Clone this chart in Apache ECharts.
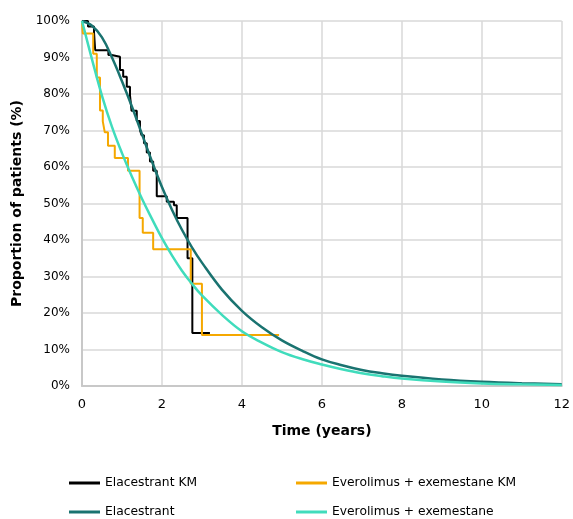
<!DOCTYPE html>
<html lang="en">
<head>
    <meta charset="UTF-8">
    <title>Survival curves</title>
    <script src="https://cdn.jsdelivr.net/npm/echarts@6/dist/echarts.min.js"></script>
    <style>
        html, body { margin: 0; padding: 0; background: #fff; }
        #chart { width: 573px; height: 519px; }
    </style>
</head>
<body>
<div id="chart"></div>
<script>
    // Kaplan-Meier steps: [time (years), % of patients]
    const elacestrantKM = [
        [0, 100], [0.15, 98.5], [0.3, 97], [0.33, 92], [0.66, 90.7], [0.74, 90.2],
        [0.95, 86.6], [1.03, 84.7], [1.12, 82], [1.2, 79.7], [1.24, 75.4],
        [1.37, 72.6], [1.45, 70.1], [1.49, 68.7], [1.55, 66.5], [1.62, 64],
        [1.7, 61.5], [1.78, 59], [1.87, 52], [2.12, 50.5], [2.3, 49.5],
        [2.37, 46], [2.64, 35], [2.76, 14.5], [3.2, 14.5]
    ];
    const everolimusKM = [
        [0, 100], [0.02, 96.6], [0.28, 91], [0.37, 84.5], [0.45, 75.5],
        [0.52, 72.5], [0.57, 69.5], [0.65, 65.8], [0.82, 62.5], [1.15, 59],
        [1.44, 46], [1.52, 42], [1.78, 37.5], [2.72, 28], [3.0, 14], [4.93, 14]
    ];

    // fitted curves
    const fitTimes = [0, 0.25, 0.5, 0.75, 1, 1.25, 1.5, 1.75, 2, 2.25, 2.5, 2.75, 3,
        3.5, 4, 4.5, 5, 5.5, 6, 6.5, 7, 7.5, 8, 9, 10, 11, 12];
    const elacestrantFit = [100, 98.7, 95.5, 90, 83.5, 76.5, 69, 61.5, 54.5, 48.3, 42.8, 38, 33.8,
        26.4, 20.6, 16.1, 12.5, 9.7, 7.3, 5.7, 4.4, 3.5, 2.8, 1.8, 1.15, 0.75, 0.5];
    const everolimusFit = [100, 89.5, 79.5, 71, 63.8, 57.3, 51.3, 45.8, 40.5, 35.8, 31.6, 28, 24.8,
        19.5, 15, 11.9, 9.3, 7.4, 5.9, 4.6, 3.5, 2.7, 2.05, 1.2, 0.7, 0.45, 0.3];

    const xTicks = { min: 0, max: 12, interval: 2 };
    const yTicks = { min: 0, max: 100, interval: 10 };

    const font = 'DejaVu Sans';
    const gridColor = '#d9d9d9';

    function pair(xs, ys) {
        return xs.map((x, i) => [x, ys[i]]);
    }

    function legendAt(name, left, top) {
        return {
            left: left, top: top, padding: 0,
            itemWidth: 31, itemHeight: 3, icon: 'rect',
            textStyle: { fontFamily: font, fontSize: 12.3, color: '#000', lineHeight: 16 },
            data: [name]
        };
    }

    const chart = echarts.init(document.getElementById('chart'));
    const option = {
        animation: false,
        textStyle: { fontFamily: font },
        grid: { left: 82, right: 11, top: 21, bottom: 133 },
        legend: [
            legendAt('Elacestrant KM', 69, 475),
            legendAt('Everolimus + exemestane KM', 296, 475),
            legendAt('Elacestrant', 69, 504),
            legendAt('Everolimus + exemestane', 296, 504)
        ],
        xAxis: {
            type: 'value',
            min: xTicks.min, max: xTicks.max, interval: xTicks.interval,
            name: 'Time (years)',
            nameLocation: 'middle',
            nameGap: 38,
            nameTextStyle: { fontFamily: font, fontSize: 14, fontWeight: 'bold', color: '#000' },
            axisLine: { show: true, lineStyle: { color: '#c8c8c8', width: 2 } },
            axisTick: { show: false },
            axisLabel: { margin: 12, fontSize: 13, color: '#000', fontFamily: font },
            splitLine: { show: true, lineStyle: { color: gridColor, width: 1.5 } }
        },
        yAxis: {
            type: 'value',
            min: yTicks.min, max: yTicks.max, interval: yTicks.interval,
            name: 'Proportion of patients (%)',
            nameLocation: 'middle',
            nameGap: 56,
            nameTextStyle: { fontFamily: font, fontSize: 14, fontWeight: 'bold', color: '#000' },
            axisLine: { show: true, lineStyle: { color: '#c8c8c8', width: 2 } },
            axisTick: { show: false },
            axisLabel: { margin: 12, fontSize: 12, color: '#000', fontFamily: font, formatter: '{value}%' },
            splitLine: { show: true, lineStyle: { color: gridColor, width: 1.5 } }
        },
        series: [
            {
                name: 'Elacestrant KM', type: 'line', step: 'end', symbol: 'none',
                data: elacestrantKM,
                lineStyle: { color: '#000000', width: 2 }, itemStyle: { color: '#000000' }
            },
            {
                name: 'Everolimus + exemestane KM', type: 'line', step: 'end', symbol: 'none',
                data: everolimusKM,
                lineStyle: { color: '#f5a800', width: 2 }, itemStyle: { color: '#f5a800' }
            },
            {
                name: 'Elacestrant', type: 'line', smooth: 0.4, symbol: 'none',
                data: pair(fitTimes, elacestrantFit),
                lineStyle: { color: '#1a7370', width: 2.5 }, itemStyle: { color: '#1a7370' }
            },
            {
                name: 'Everolimus + exemestane', type: 'line', smooth: 0.4, symbol: 'none',
                data: pair(fitTimes, everolimusFit),
                lineStyle: { color: '#40dcbc', width: 2.5 }, itemStyle: { color: '#40dcbc' }
            }
        ]
    };
    chart.setOption(option);
    window.addEventListener('resize', () => {
        chart.resize();
    });
</script>
</body>
</html>
